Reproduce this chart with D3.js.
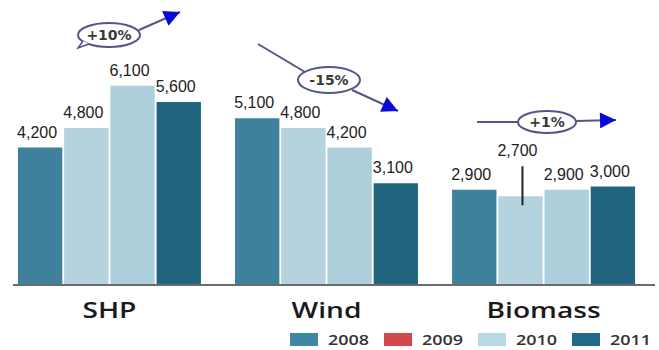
<!DOCTYPE html>
<html><head><meta charset="utf-8">
<script src="https://cdn.jsdelivr.net/npm/d3@7"></script>
<style>body{margin:0;background:#fff}svg{display:block}</style>
</head><body>
<svg id="c" width="659" height="350"></svg>
<script>
const categories = ["SHP", "Wind", "Biomass"];
const years = ["2008", "2009", "2010", "2011"];
const v2008 = [4200, 5100, 2900];
const v2009 = [4800, 4800, 2700];
const v2010 = [6100, 4200, 2900];
const v2011 = [5600, 3100, 3000];
const changes = ["+10%", "-15%", "+1%"];
const barColors = ["#3f819d", "#b4d3df", "#aecfdc", "#22657f"];
const legendColors = ["#3d86a6", "#d4474d", "#b8d8e2", "#226a8c"];

const series = [v2008, v2009, v2010, v2011];
const svg = d3.select("#c");

const x0 = d3.scaleBand().domain(categories).range([1, 652]).paddingInner(0.157).paddingOuter(0.078);
const x1 = d3.scaleBand().domain(years).range([0, x0.bandwidth()]).paddingInner(0.04);
const y = d3.scaleLinear().domain([0, 7000]).range([284, 56.5]);
const fmt = d3.format(",");

const rows = [];
categories.forEach((c, i) => years.forEach((yr, j) => rows.push({c, yr, j, v: series[j][i]})));

svg.append("g").selectAll("rect").data(rows).join("rect")
  .attr("x", d => x0(d.c) + x1(d.yr))
  .attr("y", d => y(d.v))
  .attr("width", x1.bandwidth())
  .attr("height", d => y(0) - y(d.v))
  .attr("fill", d => barColors[d.j]);

// baseline
svg.append("line").attr("x1", 13).attr("x2", 655).attr("y1", y(0) + 1).attr("y2", y(0) + 1)
  .attr("stroke", "#6b6b6b").attr("stroke-width", 2);

// value labels
const special = d => d.c === "Biomass" && d.yr === "2009";
svg.append("g").selectAll("text").data(rows).join("text")
  .attr("x", d => x0(d.c) + x1(d.yr) + x1.bandwidth() / 2 - 3)
  .attr("y", d => special(d) ? y(d.v) - 40 : y(d.v) - 10)
  .attr("text-anchor", "middle")
  .attr("font-family", "Liberation Sans, Arial, sans-serif")
  .attr("font-size", 16).attr("fill", "#222")
  .text(d => fmt(d.v));
// leader line for the 2,700 label
rows.filter(special).forEach(d => {
  const cx = x0(d.c) + x1(d.yr) + x1.bandwidth() / 2 + 2;
  svg.append("line").attr("x1", cx).attr("x2", cx).attr("y1", y(d.v) - 30).attr("y2", y(d.v) + 9)
    .attr("stroke", "#222").attr("stroke-width", 2);
});

// category labels
svg.append("g").selectAll("text").data(categories).join("text")
  .attr("transform", d => `translate(${x0(d) + x0.bandwidth() / 2},318) scale(1.28,1)`)
  .attr("text-anchor", "middle")
  .attr("font-family", "Open Sans, sans-serif").attr("font-weight", 600)
  .attr("font-size", 22).attr("fill", "#1a1a1a")
  .text(d => d);

// legend
const lg = svg.append("g").selectAll("g").data(years).join("g")
  .attr("transform", (d, i) => `translate(${290 + i * 94},333)`);
lg.append("rect").attr("width", 28).attr("height", 13).attr("fill", (d, i) => legendColors[i]);
lg.append("text").attr("transform", "translate(38,12) scale(1.2,1)")
  .attr("font-family", "Open Sans, sans-serif").attr("font-weight", 600)
  .attr("font-size", 15).attr("fill", "#333").text(d => d);

// annotations
const defs = svg.append("defs");
defs.append("marker").attr("id", "ah").attr("viewBox", "0 0 10 10").attr("refX", 10).attr("refY", 5)
  .attr("markerWidth", 22).attr("markerHeight", 16).attr("markerUnits", "userSpaceOnUse").attr("orient", "auto")
  .append("path").attr("d", "M0,0 L10,5 L0,10 z").attr("fill", "#0a0ad8");

const lineStroke = "#55558a";
const ann = [
  {cx: 109, cy: 35, rx: 31, ry: 12, pre: null, post: [[139, 30], [180, 12]], tail: true},
  {cx: 329, cy: 80, rx: 31, ry: 13, pre: [[258, 44], [305, 72]], post: [[352, 90], [398, 111]], tail: false},
  {cx: 547, cy: 122, rx: 29, ry: 11, pre: [[477, 122], [518, 122]], post: [[576, 121], [616, 120]], tail: false}
];
ann.forEach((a, i) => {
  const g = svg.append("g");
  if (a.pre) g.append("line").attr("x1", a.pre[0][0]).attr("y1", a.pre[0][1]).attr("x2", a.pre[1][0]).attr("y2", a.pre[1][1])
    .attr("stroke", lineStroke).attr("stroke-width", 2);
  g.append("line").attr("x1", a.post[0][0]).attr("y1", a.post[0][1]).attr("x2", a.post[1][0]).attr("y2", a.post[1][1])
    .attr("stroke", lineStroke).attr("stroke-width", 2).attr("marker-end", "url(#ah)");
  g.append("ellipse").attr("cx", a.cx).attr("cy", a.cy).attr("rx", a.rx).attr("ry", a.ry)
    .attr("fill", "#fff").attr("stroke", lineStroke).attr("stroke-width", 2);
  if (a.tail) g.append("path").attr("d", `M${a.cx - 26},${a.cy + 6} L${a.cx - 31},${a.cy + 13} L${a.cx - 20},${a.cy + 9}`)
    .attr("fill", "#fff").attr("stroke", lineStroke).attr("stroke-width", 1.5);
  g.append("text").attr("x", a.cx).attr("y", a.cy + 5).attr("text-anchor", "middle")
    .attr("font-family", "DejaVu Sans, sans-serif").attr("font-weight", "bold").attr("font-size", 14)
    .attr("fill", "#3a3a3a").text(changes[i]);
});
</script>
</body></html>
